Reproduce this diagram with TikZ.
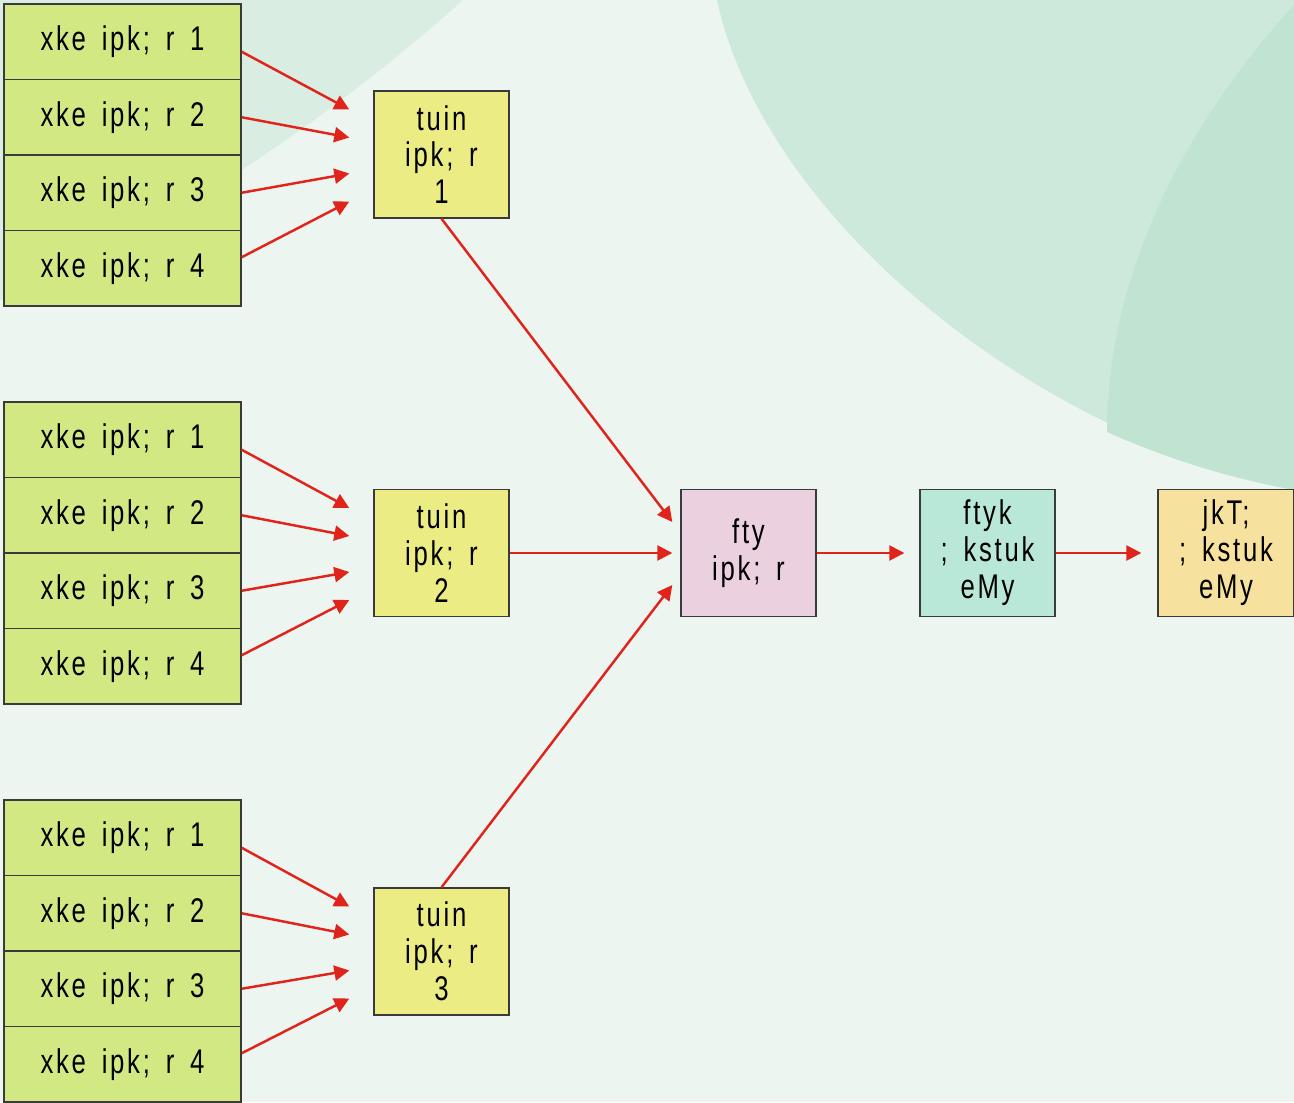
\documentclass[tikz,border=0pt]{standalone}
\usepackage{fontspec}
\setmainfont[FakeStretch=0.75,LetterSpace=8,WordSpace=1.6]{Liberation Sans}
\usetikzlibrary{arrows.meta}

\definecolor{bgcol}{HTML}{ECF5F0}
\definecolor{bgtri}{HTML}{DAEDE3}
\definecolor{bgarc}{HTML}{CCE9DB}
\definecolor{bgarcdark}{HTML}{C0E3D2}
\definecolor{gramfill}{HTML}{D2E983}
\definecolor{janfill}{HTML}{ECEC85}
\definecolor{zilafill}{HTML}{EBD1E0}
\definecolor{dpcfill}{HTML}{B9E8D8}
\definecolor{spbfill}{HTML}{F6E29E}
\definecolor{arrred}{HTML}{E0241C}
\definecolor{boxline}{HTML}{3A3A3A}

\tikzset{
	gram/.style={draw=boxline, line width=0.8pt, fill=gramfill, minimum width=4.74cm, minimum height=1.51cm, inner sep=0pt, font=\fontsize{19.5}{21}\selectfont},
	level/.style={draw=boxline, line width=0.8pt, minimum width=2.7cm, minimum height=2.54cm, inner sep=0pt, align=center, font=\fontsize{19.5}{21}\selectfont},
	arr/.style={draw=arrred, line width=1.4pt, -{Triangle[length=0.3cm,width=0.3cm]}},
}

\begin{document}
\begin{tikzpicture}[x=0.02cm,y=-0.02cm]
	%background
	\useasboundingbox (0,0) rectangle (1294,1102);
	\fill[bgcol] (0,0) rectangle (1294,1102);
	\fill[bgtri] (0,0) -- (463,0) .. controls (330,120) and (150,240) .. (0,300) -- cycle;
	\fill[bgarc] (717,0) .. controls (760,200) and (1000,420) .. (1294,490) -- (1294,0) -- cycle;
	\fill[bgarcdark] (1294,5) .. controls (1180,130) and (1107,280) .. (1107,432) .. controls (1170,460) and (1230,478) .. (1294,490) -- cycle;
	%gram panchayat
	\foreach \g/\y in {1/4,2/402,3/800}{
		\foreach \i in {1,...,4}{
			\node[gram] (g\g r\i) at (122.5,{\y+37.75+(\i-1)*75.5}) {xke ipk; r \i};
		}
	}
	%janpad
	\node[level, fill=janfill] (j1) at (441.5,154.5) {tuin\\ipk; r\\1};
	\node[level, fill=janfill] (j2) at (441.5,553) {tuin\\ipk; r\\2};
	\node[level, fill=janfill] (j3) at (441.5,951.5) {tuin\\ipk; r\\3};
	%zila
	\node[level, fill=zilafill] (zp) at (748.5,553) {fty\\ipk; r};
	\node[level, fill=dpcfill] (dpc) at (987.5,553) {ftyk\\; kstuk\\eMy};
	\node[level, fill=spbfill, minimum width=2.72cm] (spb) at (1226,553) {jkT;\\; kstuk\\eMy};
	%arrows
	\foreach \g in {1,2,3}{
		\foreach \i/\dy/\ey in {1/-0.2/0.9, 2/0/0.34, 3/0/-0.38, 4/0.22/-0.94}{
			\coordinate (e\g\i) at ([xshift=-0.48cm,yshift=\ey cm]j\g.west);
			\draw[arr] ([yshift=\dy cm]g\g r\i.east) -- (e\g\i);
		}
	}
	\coordinate (z1) at ([xshift=-0.16cm,yshift=0.62cm]zp.west);
	\coordinate (z2) at ([xshift=-0.16cm]zp.west);
	\coordinate (z3) at ([xshift=-0.16cm,yshift=-0.64cm]zp.west);
	\coordinate (d1) at ([xshift=-0.3cm]dpc.west);
	\coordinate (s1) at ([xshift=-0.32cm]spb.west);
	\draw[arr] (j1.south) -- (z1);
	\draw[arr] (j2.east) -- (z2);
	\draw[arr] (j3.north) -- (z3);
	\draw[arr] (zp.east) -- (d1);
	\draw[arr] (dpc.east) -- (s1);
\end{tikzpicture}
\end{document}
